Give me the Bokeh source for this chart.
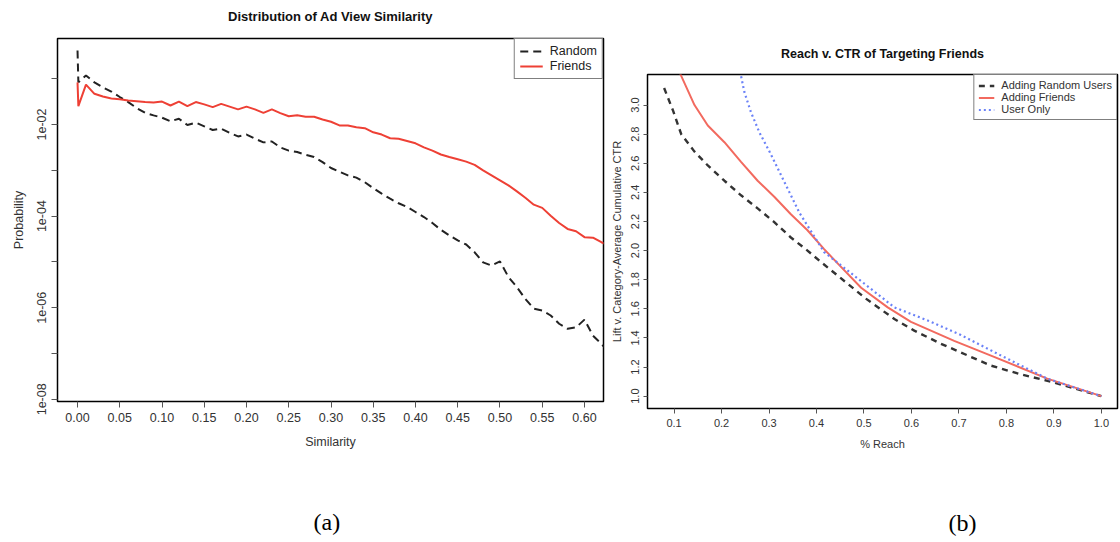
import numpy as np
from bokeh.plotting import figure
from bokeh.layouts import row, column
from bokeh.models import (Range1d, FixedTicker, PrintfTickFormatter, CustomJSTickFormatter,
                          Legend, LegendItem, Title)
from bokeh.embed import file_html
from bokeh.resources import INLINE

# ---------------- data: (a) Distribution of Ad View Similarity ----------------
similarity = [0.0, 0.001] + [round(0.01 * k, 2) for k in range(1, 64)]
random_log10 = [-0.384, -1.08,
                -0.93, -1.08, -1.19, -1.28, -1.40, -1.51, -1.64, -1.745, -1.80, -1.85,
                -1.93, -1.875, -2.01, -1.96, -2.04, -2.12, -2.09, -2.18, -2.26, -2.22,
                -2.31, -2.39, -2.37, -2.50, -2.57, -2.60, -2.66, -2.71, -2.82, -2.95,
                -3.03, -3.11, -3.16, -3.26, -3.39, -3.51, -3.62, -3.72, -3.80, -3.91,
                -4.02, -4.15, -4.30, -4.42, -4.53, -4.62, -4.79, -5.01, -5.08, -4.99,
                -5.33, -5.55, -5.81, -6.02, -6.06, -6.17, -6.35, -6.46, -6.43, -6.26,
                -6.61, -6.79, -7.00]
friends_log10 = [-1.08, -1.60,
                 -1.13, -1.33, -1.39, -1.43, -1.45, -1.476, -1.49, -1.51, -1.52, -1.50,
                 -1.585, -1.50, -1.60, -1.51, -1.56, -1.62, -1.55, -1.61, -1.67, -1.61,
                 -1.67, -1.745, -1.67, -1.75, -1.82, -1.80, -1.83, -1.83, -1.89, -1.94,
                 -2.02, -2.02, -2.06, -2.08, -2.17, -2.22, -2.30, -2.31, -2.36, -2.41,
                 -2.50, -2.57, -2.655, -2.71, -2.76, -2.81, -2.88, -3.00, -3.11, -3.22,
                 -3.33, -3.46, -3.60, -3.75, -3.82, -3.99, -4.15, -4.28, -4.33, -4.46,
                 -4.47, -4.57, -4.65]
sim_ticks = [0.0, 0.05, 0.10, 0.15, 0.20, 0.25, 0.30, 0.35, 0.40, 0.45, 0.50, 0.55, 0.60]
prob_ticks = [1e-8, 1e-7, 1e-6, 1e-5, 1e-4, 1e-3, 1e-2, 1e-1]

# ---------------- data: (b) Reach v. CTR of Targeting Friends ----------------
rand_reach = [0.079, 0.098, 0.115, 0.143, 0.171, 0.206, 0.241, 0.276, 0.311, 0.346, 0.381,
              0.41, 0.504, 0.564, 0.606, 0.662, 0.704, 0.767, 0.83, 0.893, 1.0]
rand_lift = [3.117, 2.96, 2.80, 2.68, 2.585, 2.48, 2.38, 2.29, 2.196, 2.09, 2.0,
             1.92, 1.67, 1.53, 1.45, 1.36, 1.30, 1.21, 1.15, 1.10, 1.0]
friend_reach = [0.105, 0.115, 0.143, 0.171, 0.206, 0.241, 0.276, 0.311, 0.346, 0.381, 0.416,
                0.448, 0.494, 0.55, 0.599, 0.69, 0.774, 0.886, 1.0]
friend_lift = [3.28, 3.2, 3.0, 2.86, 2.745, 2.61, 2.48, 2.37, 2.25, 2.14, 2.01,
               1.90, 1.745, 1.61, 1.51, 1.38, 1.27, 1.12, 1.0]
user_reach = [0.238, 0.241, 0.248, 0.262, 0.28, 0.301, 0.322, 0.343, 0.364, 0.389, 0.416,
              0.451, 0.494, 0.564, 0.634, 0.704, 0.788, 0.886, 1.0]
user_lift = [3.3, 3.2, 3.09, 2.95, 2.81, 2.68, 2.54, 2.40, 2.26, 2.13, 1.99,
             1.90, 1.79, 1.61, 1.52, 1.42, 1.28, 1.12, 1.0]
reach_ticks = [0.1, 0.2, 0.3, 0.4, 0.5, 0.6, 0.7, 0.8, 0.9, 1.0]
lift_ticks = [1.0, 1.2, 1.4, 1.6, 1.8, 2.0, 2.2, 2.4, 2.6, 2.8, 3.0]

FONT = "Liberation Sans"


def style(p, tick_size, label_size):
    p.grid.visible = False
    p.outline_line_color = "black"
    p.outline_line_width = 1.5
    p.background_fill_color = "white"
    p.border_fill_color = "white"
    for ax in (p.xaxis[0], p.yaxis[0]):
        ax.axis_line_color = None
        ax.major_tick_in = 0
        ax.major_tick_out = 6
        ax.major_tick_line_color = "#555555"
        ax.minor_tick_line_color = None
        ax.major_label_text_font = FONT
        ax.major_label_text_font_size = tick_size
        ax.major_label_text_color = "#333333"
        ax.axis_label_text_font = FONT
        ax.axis_label_text_font_size = label_size
        ax.axis_label_text_font_style = "normal"
        ax.axis_label_text_color = "#333333"
        ax.major_label_standoff = 5
    p.yaxis[0].major_label_orientation = "vertical"


def add_title(p, text, size, gap):
    # small blank spacer right above the frame, then the bold title
    p.add_layout(Title(text=" ", text_font_size="1px", standoff=gap), "above")
    p.add_layout(Title(text=text, align="center", text_font=FONT, text_font_size=size,
                       text_font_style="bold", text_color="#111111", standoff=0), "above")


def add_caption(p, text, offset, gap):
    # blank spacer panel, then the caption panel right below it
    p.add_layout(Title(text=" ", text_font_size="10px", standoff=gap), "below")
    p.add_layout(Title(text=text, align="left", offset=offset, text_font="Liberation Serif",
                       text_font_size="24px", text_font_style="normal", text_color="black",
                       standoff=0), "below")


# ---------------- figure (a) ----------------
p1 = figure(width=607, height=542, title=None,
            x_range=Range1d(-0.0237, 0.6225),
            y_range=Range1d(10 ** -8.048, 10 ** -0.122), y_axis_type="log",
            output_backend="svg", toolbar_location=None,
            min_border_left=57, min_border_right=4, min_border_top=38, min_border_bottom=141)
style(p1, "12.5px", "12.5px")
add_title(p1, "Distribution of Ad View Similarity", "13px", 12)
p1.xaxis.axis_label = "Similarity"
p1.yaxis.axis_label = "Probability"
p1.xaxis.ticker = FixedTicker(ticks=sim_ticks)
p1.xaxis.formatter = PrintfTickFormatter(format="%.2f")
p1.yaxis.ticker = FixedTicker(ticks=prob_ticks)
p1.yaxis.formatter = CustomJSTickFormatter(code="""
const e = Math.round(Math.log10(tick));
if (e % 2 !== 0) { return ""; }
const a = Math.abs(e);
return "1e-" + (a < 10 ? "0" + a : "" + a);
""")
p1.xaxis.axis_label_standoff = 10
p1.yaxis.axis_label_standoff = 9

r_rand = p1.line(similarity, list(10.0 ** np.array(random_log10)), line_color="#222222",
                 line_width=2, line_dash="8 5")
r_fr = p1.line(similarity, list(10.0 ** np.array(friends_log10)), line_color="#ee4035",
               line_width=2)
leg1 = Legend(items=[LegendItem(label="Random", renderers=[r_rand]),
                     LegendItem(label="Friends", renderers=[r_fr])],
              location="top_right", margin=0, padding=5, spacing=1,
              label_text_font=FONT, label_text_font_size="12.5px", label_text_color="#222222",
              label_height=12, glyph_height=12, glyph_width=23, label_standoff=7,
              border_line_color="black", border_line_width=1.5, background_fill_alpha=1)
p1.add_layout(leg1)
add_caption(p1, "(a)", 256, 42)

# ---------------- figure (b) ----------------
p2 = figure(width=513, height=542, title=None,
            x_range=Range1d(0.044, 1.034), y_range=Range1d(0.915, 3.21),
            output_backend="svg", toolbar_location=None,
            min_border_left=39, min_border_right=3, min_border_top=74, min_border_bottom=134)
style(p2, "11px", "11px")
add_title(p2, "Reach v. CTR of Targeting Friends", "12.5px", 11)
p2.xaxis.axis_label = "% Reach"
p2.yaxis.axis_label = "Lift v. Category-Average Cumulative CTR"
p2.xaxis.ticker = FixedTicker(ticks=reach_ticks)
p2.xaxis.formatter = PrintfTickFormatter(format="%.1f")
p2.yaxis.ticker = FixedTicker(ticks=lift_ticks)
p2.yaxis.formatter = PrintfTickFormatter(format="%.1f")
p2.xaxis.major_tick_out = 5
p2.yaxis.major_tick_out = 4
p2.yaxis.major_label_standoff = 4
p2.xaxis.axis_label_standoff = 8
p2.yaxis.axis_label_standoff = 6

q_rand = p2.line(rand_reach, rand_lift, line_color="#333333", line_width=2.4, line_dash="6 5")
q_fr = p2.line(friend_reach, friend_lift, line_color="#f26a5f", line_width=2)
q_user = p2.line(user_reach, user_lift, line_color="#6b82f7", line_width=2.2, line_dash="2 3")
leg2 = Legend(items=[LegendItem(label="Adding Random Users", renderers=[q_rand]),
                     LegendItem(label="Adding Friends", renderers=[q_fr]),
                     LegendItem(label="User Only", renderers=[q_user])],
              location="top_right", margin=0, padding=4, spacing=0,
              label_text_font=FONT, label_text_font_size="11px", label_text_color="#333333",
              label_height=11, glyph_height=11, glyph_width=16, label_standoff=7,
              border_line_color="black", border_line_width=1.5, background_fill_alpha=1)
p2.add_layout(leg2)
add_caption(p2, "(b)", 301, 42)

layout = row(column(p1), column(p2), spacing=0)
open("out.html", "w").write(file_html(layout, INLINE))
